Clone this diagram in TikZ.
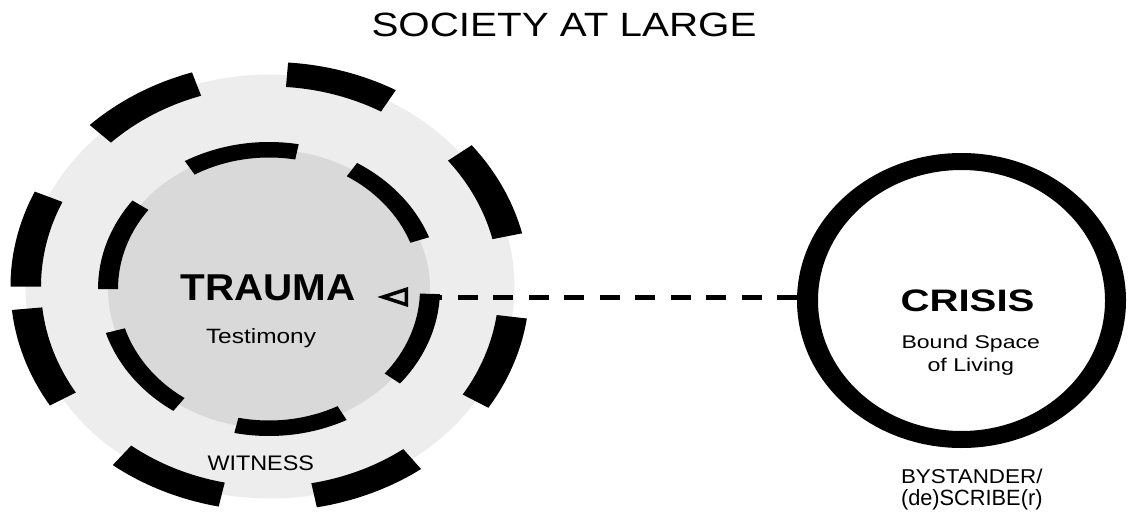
\documentclass[tikz,border=0pt]{standalone}
\usepackage{fontspec}
\setmainfont{Liberation Sans}
\usepackage{graphicx}
\usetikzlibrary{arrows.meta,shapes.geometric}
\definecolor{outergray}{HTML}{EDEDED}
\definecolor{innergray}{HTML}{D9D9D9}
\newcommand{\fitbox}[3]{\resizebox{#1pt}{#2pt}{#3}}
\begin{document}
\begin{tikzpicture}[x=1pt,y=1pt,
  lbl/.style={inner sep=0pt, outer sep=0pt, anchor=base west, text=black},
  ringdash/.style={fill=black},
  conn/.style={line width=5pt, dash pattern=on 20pt off 15.5pt,
    -{Triangle[open,length=31pt,width=19pt,line width=3.5pt]}}
]
\useasboundingbox (0,0) rectangle (1129,-516);
\fill[white] (0,0) rectangle (1129,-516);

% witness field (outer)
\fill[outergray] (270,-286.5) ellipse [x radius=244.5, y radius=212];
\begin{scope}[shift={(270,-286.5)}]
\foreach \a/\b in {13.7/39, 61/86, 107.5/134, 155/180, 186/212, 232.7/258.6, 280.4/305.6, 327.3/351.8}
  \fill[ringdash] (\a:259.5 and 224.5) arc[start angle=\a, end angle=\b, x radius=259.5, y radius=224.5]
    -- (\b:229 and 200) arc[start angle=\b, end angle=\a, x radius=229, y radius=200] -- cycle;
\end{scope}

% trauma field (inner)
\fill[innergray] (269,-289) ellipse [x radius=161, y radius=139.25];
\begin{scope}[shift={(269,-289)}]
\foreach \a/\b in {20.6/59, 80/119.5, 143/180, 197.4/236, 258.3/297, 320/358}
  \fill[ringdash] (\a:171 and 147) arc[start angle=\a, end angle=\b, x radius=171, y radius=147]
    -- (\b:151 and 131.5) arc[start angle=\b, end angle=\a, x radius=151, y radius=131.5] -- cycle;
\end{scope}

% crisis ring
\node[ellipse, minimum width=329pt, minimum height=295pt, inner sep=0pt, outer sep=0pt] (crisisring) at (961.5,-300.5) {};
\fill[black, even odd rule] (crisisring.center) ellipse [x radius=164.5, y radius=147.5]
  (crisisring.center) ellipse [x radius=143.5, y radius=130.5];

% connector
\coordinate (tip) at (377,-297);
\draw[conn] (tip -| crisisring.west) -- (tip);

% labels
\node[lbl] (title) at (371.5,-36.7) {\fitbox{385}{23.5}{SOCIETY AT LARGE}};
\node[lbl] (trauma) at (180.5,-300.7) {\fitbox{175}{25.7}{\bfseries TRAUMA}};
\node[lbl] (testimony) at (206,-343.3) {\fitbox{110}{15}{Testimony}};
\node[lbl] (witness) at (207.5,-470) {\fitbox{106.5}{14.7}{WITNESS}};
\node[lbl] (crisis) at (900.5,-311.7) {\fitbox{134}{21.7}{\bfseries CRISIS}};
\node[lbl] (bound) at (901.5,-348.3) {\fitbox{138.5}{13.3}{Bound Space}};
\node[lbl] (living) at (927.5,-371.7) {\fitbox{86.5}{13.4}{of Living}};
\node[lbl] (bystander) at (901,-483.5) {\fitbox{141.5}{14.5}{BYSTANDER/}};
\node[lbl] (describer) at (901,-505.5) {\fitbox{141.5}{16}{(de)SCRIBE(r)}};
\end{tikzpicture}
\end{document}
